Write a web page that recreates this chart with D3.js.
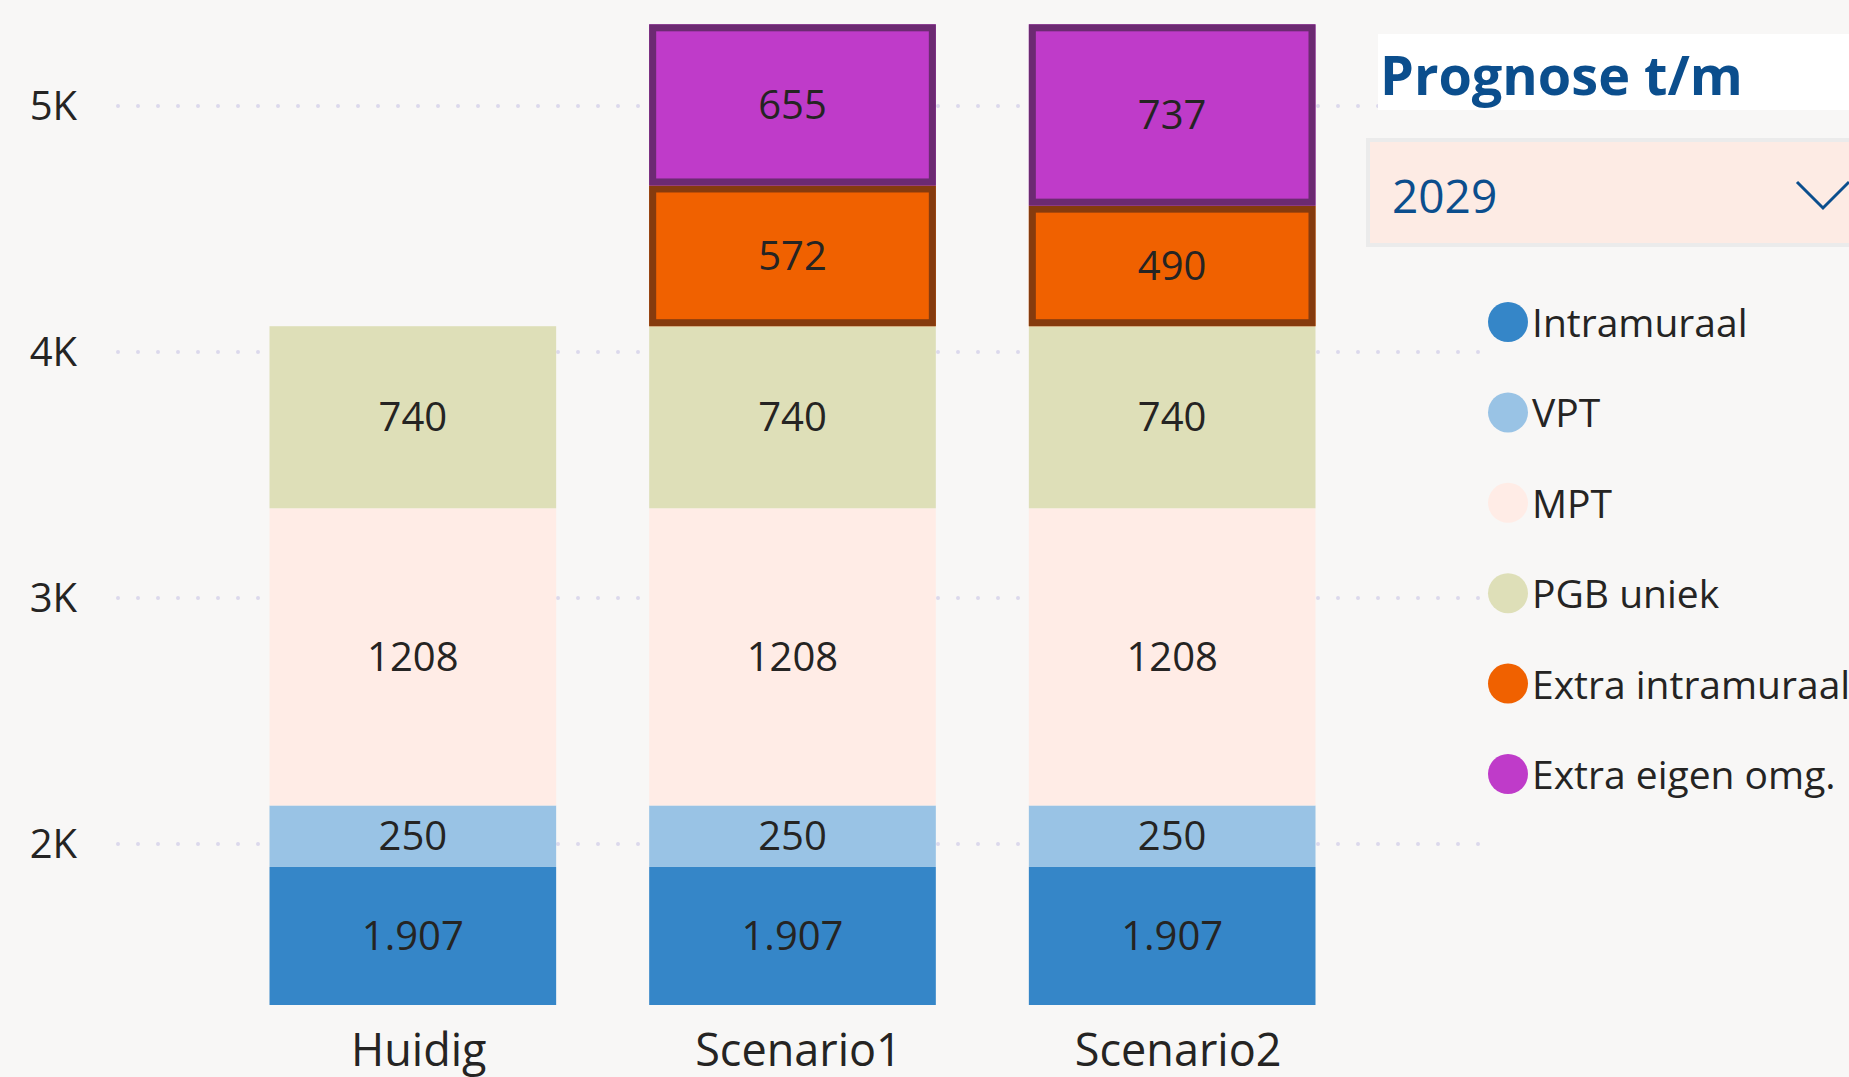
<!DOCTYPE html>
<html>
<head>
<meta charset="utf-8">
<script src="https://cdn.jsdelivr.net/npm/d3@7"></script>
<style>
  body { margin: 0; background: #f8f7f6; overflow: hidden; }
  svg { display: block; font-family: "Segoe UI", "Open Sans", sans-serif; }
</style>
</head>
<body>
<svg width="1849" height="1077"></svg>
<script>
const categories = ["Huidig", "Scenario1", "Scenario2"];
const seriesNames = ["Intramuraal", "VPT", "MPT", "PGB uniek", "Extra intramuraal", "Extra eigen omg."];
const intramuraal = [1907, 1907, 1907];
const vpt = [250, 250, 250];
const mpt = [1208, 1208, 1208];
const pgbUniek = [740, 740, 740];
const extraIntramuraal = [0, 572, 490];
const extraEigenOmg = [0, 655, 737];
const yTicks = [2000, 3000, 4000, 5000];
const slicerTitle = "Prognose t/m";
const slicerValue = "2029";

const colors = ["#3586c8", "#99c3e5", "#ffece6", "#dedfb8", "#f06100", "#bf3bc9"];
const borders = [null, null, null, null, "#853b0e", "#6c2a72"];

const svg = d3.select("svg");
const textColor = "#252423";

// table for d3.stack
const table = categories.map((c, i) => ({
  cat: c,
  "Intramuraal": intramuraal[i],
  "VPT": vpt[i],
  "MPT": mpt[i],
  "PGB uniek": pgbUniek[i],
  "Extra intramuraal": extraIntramuraal[i],
  "Extra eigen omg.": extraEigenOmg[i]
}));
const stacked = d3.stack().keys(seriesNames)(table);

const yMin = 1346;
const y = d3.scaleLinear().domain([yMin, 5000]).range([1005, 106]);
const x = d3.scaleBand().domain(categories).range([223, 1362])
  .paddingInner(0.245).paddingOuter(0.1225);

// dotted gridlines
svg.append("g").selectAll("line")
  .data(yTicks)
  .enter()
  .append("line")
  .attr("x1", 118)
  .attr("x2", 1482)
  .attr("y1", d => y(d))
  .attr("y2", d => y(d))
  .attr("stroke", "#dcd9ec")
  .attr("stroke-width", 4)
  .attr("stroke-linecap", "round")
  .attr("stroke-dasharray", "0 20");

// y axis labels
svg.append("g").selectAll("text")
  .data(yTicks)
  .enter()
  .append("text")
  .attr("x", 77)
  .attr("y", d => y(d) + 14)
  .attr("text-anchor", "end")
  .attr("font-size", "40px")
  .attr("fill", textColor)
  .text(d => d3.format("d")(d / 1000) + "K");

// bars
const nl = d3.formatLocale({ decimal: ",", thousands: ".", grouping: [3], currency: ["€", ""] });
const fmt = (d, k) => k === 0 ? nl.format(",d")(d) : d3.format("d")(d);

stacked.forEach((layer, k) => {
  const g = svg.append("g");
  const segs = layer.filter(d => d[1] - d[0] > 0);
  segs.forEach(d => {
    const cat = d.data.cat;
    const y0 = y(Math.max(d[0], yMin));
    const y1 = y(d[1]);
    g.append("rect")
      .attr("x", x(cat))
      .attr("y", y1)
      .attr("width", x.bandwidth())
      .attr("height", y0 - y1)
      .attr("fill", colors[k]);
    if (borders[k]) {
      g.append("rect")
        .attr("x", x(cat) + 3.5)
        .attr("y", y1 + 3.5)
        .attr("width", x.bandwidth() - 7)
        .attr("height", y0 - y1 - 7)
        .attr("fill", "none")
        .attr("stroke", borders[k])
        .attr("stroke-width", 7);
    }
    g.append("text")
      .attr("x", x(cat) + x.bandwidth() / 2)
      .attr("y", (y0 + y1) / 2 + 14)
      .attr("text-anchor", "middle")
      .attr("font-size", "40px")
      .attr("fill", textColor)
      .text(fmt(d[1] - d[0], k));
  });
});

// x axis labels
svg.append("g").selectAll("text")
  .data(categories)
  .enter()
  .append("text")
  .attr("x", d => x(d) + x.bandwidth() / 2 + 6)
  .attr("y", 1066)
  .attr("text-anchor", "middle")
  .attr("font-size", "45px")
  .attr("fill", textColor)
  .text(d => d);

// slicer title
svg.append("rect")
  .attr("x", 1378).attr("y", 34)
  .attr("width", 480).attr("height", 76)
  .attr("fill", "#ffffff");
svg.append("text")
  .attr("x", 1380).attr("y", 95)
  .attr("font-size", "54px")
  .attr("font-weight", "bold")
  .attr("fill", "#0b4e8d")
  .text(slicerTitle);

// dropdown
svg.append("rect")
  .attr("x", 1368).attr("y", 140)
  .attr("width", 500).attr("height", 105)
  .attr("fill", "#fdebe4")
  .attr("stroke", "#ebebeb")
  .attr("stroke-width", 4);
svg.append("text")
  .attr("x", 1392).attr("y", 213)
  .attr("font-size", "46px")
  .attr("fill", "#0b4e8d")
  .text(slicerValue);
svg.append("path")
  .attr("d", d3.line()([[1797, 182], [1823, 208], [1849, 182]]))
  .attr("fill", "none")
  .attr("stroke", "#0b4e8d")
  .attr("stroke-width", 3);

// legend
const legend = svg.append("g").selectAll("g")
  .data(seriesNames)
  .enter()
  .append("g")
  .attr("transform", (d, i) => `translate(1508, ${322 + i * 90.4})`);
legend.append("circle")
  .attr("r", 20)
  .attr("fill", (d, i) => colors[i]);
legend.append("text")
  .attr("x", 24)
  .attr("y", 15)
  .attr("font-size", "39px")
  .attr("fill", textColor)
  .text(d => d);
</script>
</body>
</html>
